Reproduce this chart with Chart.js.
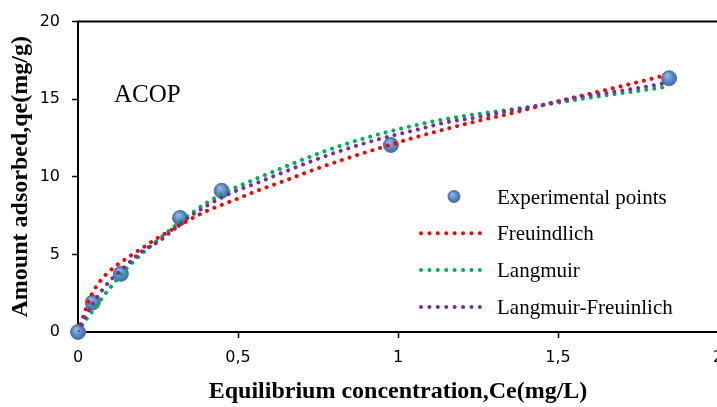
<!DOCTYPE html>
<html>
<head>
<meta charset="utf-8">
<script src="https://cdn.jsdelivr.net/npm/chart.js@4.4.0/dist/chart.umd.min.js"></script>
<style>
    html, body { margin: 0; padding: 0; background: #fff; overflow: hidden; }
    #wrap { width: 717px; height: 407px; overflow: hidden; }
</style>
</head>
<body>
<div id="wrap"><canvas id="grafico" width="740" height="407"></canvas></div>
<script>
// experimental points
const expCe = [0, 0.046, 0.134, 0.319, 0.449, 0.978, 1.847];
const expQe = [0, 1.9, 3.75, 7.35, 9.1, 12.05, 16.35];

// fitted curves
const fitCe = [0, 0.015, 0.025, 0.045, 0.07, 0.1, 0.15, 0.2, 0.25, 0.3, 0.35, 0.4, 0.45, 0.5, 0.55,
    0.65, 0.75, 0.85, 0.95, 1.05, 1.15, 1.25, 1.35, 1.45, 1.55, 1.65, 1.75, 1.84];
const freundlich = [0, 0.9, 1.5, 2.5, 3.3, 3.95, 4.72, 5.4, 6.07, 6.67, 7.25, 7.78, 8.2, 8.6, 9.02,
    9.78, 10.55, 11.25, 11.9, 12.52, 13.08, 13.6, 14.07, 14.6, 15.11, 15.6, 16.1, 16.57];
const langmuir = [0, 0.5, 0.8, 1.35, 2.05, 2.85, 4.05, 5.05, 5.93, 6.8, 7.58, 8.3, 8.88, 9.38, 9.82,
    10.67, 11.49, 12.2, 12.8, 13.3, 13.73, 14.05, 14.33, 14.62, 14.94, 15.25, 15.53, 15.8];
const langmuirFreundlich = [0, 0.68, 1.08, 1.78, 2.55, 3.3, 4.27, 5.2, 5.8, 6.62, 7.45, 8.1, 8.68, 9.15, 9.53,
    10.36, 11.16, 11.87, 12.48, 12.99, 13.5, 13.84, 14.26, 14.62, 15.08, 15.4, 15.72, 16.05];

const xTicks = [0, 0.5, 1, 1.5, 2];
const yTicks = [0, 5, 10, 15, 20];
const seriesNames = ['Experimental points', 'Freuindlich', 'Langmuir', 'Langmuir-Freuinlich'];
const sampleName = 'ACOP';

const toPoints = (xs, ys) => xs.map((x, i) => ({ x, y: ys[i] }));

function fitDataset(label, values, color, order) {
    return {
        label,
        data: toPoints(fitCe, values),
        showLine: true,
        borderColor: color,
        backgroundColor: color,
        borderWidth: 4,
        borderDash: [0.01, 8],
        borderCapStyle: 'round',
        cubicInterpolationMode: 'monotone',
        pointRadius: 0,
        order
    };
}

// shaded blue marker like the office style bubble
function bubbleFill(c) {
    const chart = c.chart;
    if (c.type !== 'data' || !chart.chartArea) return '#4f81bd';
    const px = chart.scales.x.getPixelForValue(c.parsed.x);
    const py = chart.scales.y.getPixelForValue(c.parsed.y);
    const g = chart.ctx.createRadialGradient(px - 2, py - 3, 1, px, py, 8);
    g.addColorStop(0, '#8fb2e0');
    g.addColorStop(0.6, '#5884c4');
    g.addColorStop(1, '#3b679f');
    return g;
}

const serif = '"Liberation Serif", "Times New Roman", serif';

const extras = {
    id: 'extras',
    afterDatasetsDraw(chart) {
        const { ctx, chartArea } = chart;
        ctx.save();
        // top frame line
        ctx.strokeStyle = '#000';
        ctx.lineWidth = 2;
        ctx.beginPath();
        ctx.moveTo(chartArea.left - 1, chartArea.top);
        ctx.lineTo(chartArea.right, chartArea.top);
        ctx.stroke();

        // sample label
        ctx.fillStyle = '#000';
        ctx.font = '25px ' + serif;
        ctx.textBaseline = 'alphabetic';
        ctx.fillText(sampleName, 114, 102);

        // legend inside the plot
        const rowY = [196.5, 233.3, 270.1, 306.9];
        chart.data.datasets.forEach((ds, i) => {
            const y = rowY[i];
            if (ds.showLine) {
                ctx.strokeStyle = ds.borderColor;
                ctx.lineWidth = 4;
                ctx.lineCap = 'round';
                ctx.setLineDash([0.01, 8.4]);
                ctx.beginPath();
                ctx.moveTo(421, y);
                ctx.lineTo(488, y);
                ctx.stroke();
                ctx.setLineDash([]);
            } else {
                const g = ctx.createRadialGradient(452, y - 2, 1, 454, y, 6);
                g.addColorStop(0, '#8fb2e0');
                g.addColorStop(0.6, '#5884c4');
                g.addColorStop(1, '#3b679f');
                ctx.fillStyle = g;
                ctx.strokeStyle = ds.borderColor;
                ctx.lineWidth = 1;
                ctx.beginPath();
                ctx.arc(454, y, 6, 0, Math.PI * 2);
                ctx.fill();
                ctx.stroke();
            }
            ctx.fillStyle = '#000';
            ctx.font = '21px ' + serif;
            ctx.fillText(ds.label, 497, y + 7);
        });
        ctx.restore();
    }
};

const ctxGrafico = document.getElementById('grafico').getContext('2d');

new Chart(ctxGrafico, {
    type: 'scatter',
    data: {
        datasets: [
            {
                label: seriesNames[0],
                data: toPoints(expCe, expQe),
                backgroundColor: bubbleFill,
                borderColor: '#4a75ad',
                borderWidth: 1,
                pointRadius: 7.5,
                pointHoverRadius: 7.5,
                showLine: false,
                clip: false,
                order: 4
            },
            fitDataset(seriesNames[1], freundlich, '#ff0000', 3),
            fitDataset(seriesNames[2], langmuir, '#00b050', 2),
            fitDataset(seriesNames[3], langmuirFreundlich, '#7030a0', 1)
        ]
    },
    options: {
        responsive: false,
        animation: false,
        layout: {
            padding: { left: 0, right: 22, top: 18, bottom: 0 }
        },
        plugins: {
            legend: { display: false },
            tooltip: { enabled: false }
        },
        scales: {
            x: {
                type: 'linear',
                min: 0,
                max: 2,
                afterFit: scale => { scale.height = 75; },
                afterBuildTicks: scale => { scale.ticks = xTicks.map(v => ({ value: v })); },
                grid: {
                    drawOnChartArea: false,
                    drawTicks: true,
                    tickLength: 6,
                    tickWidth: 1.5,
                    tickColor: '#000'
                },
                border: { display: true, color: '#000', width: 2 },
                ticks: {
                    color: '#000',
                    padding: 10,
                    maxRotation: 0,
                    font: { family: '"DejaVu Sans", sans-serif', size: 16 },
                    callback: value => String(value).replace('.', ',')
                },
                title: {
                    display: true,
                    text: 'Equilibrium concentration,Ce(mg/L)',
                    color: '#000',
                    padding: { top: 0, bottom: 1 },
                    font: { family: serif, size: 24, weight: 'bold' }
                }
            },
            y: {
                min: 0,
                max: 20,
                afterFit: scale => { scale.width = 78; },
                afterBuildTicks: scale => { scale.ticks = yTicks.map(v => ({ value: v })); },
                grid: {
                    drawOnChartArea: false,
                    drawTicks: true,
                    tickLength: 6,
                    tickWidth: 1.5,
                    tickColor: '#000'
                },
                border: { display: true, color: '#000', width: 2 },
                ticks: {
                    color: '#000',
                    padding: 12,
                    font: { family: '"DejaVu Sans", sans-serif', size: 16 }
                },
                title: {
                    display: true,
                    text: 'Amount adsorbed,qe(mg/g)',
                    color: '#000',
                    padding: { top: 6, bottom: 0 },
                    font: { family: serif, size: 24, weight: 'bold' }
                }
            }
        }
    },
    plugins: [extras]
});
</script>
</body>
</html>
